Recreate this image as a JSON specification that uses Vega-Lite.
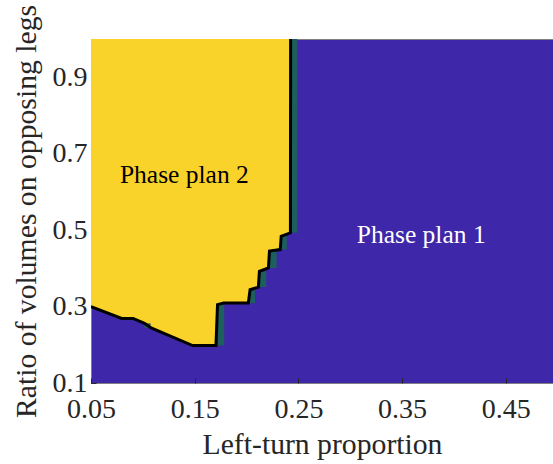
{
  "$schema": "https://vega.github.io/schema/vega-lite/v6.json",
  "autosize": "none",
  "padding": {"left": 91, "top": 39, "right": 0, "bottom": 81},
  "width": 462,
  "height": 344,
  "config": {
    "view": {"fill": "#3e27a8", "stroke": "#808080", "strokeWidth": 1},
    "font": "Liberation Serif, serif",
    "axis": {"labelFont": "Liberation Serif, serif", "titleFont": "Liberation Serif, serif", "labelColor": "#262626", "titleColor": "#262626", "titleFontWeight": "normal", "grid": false, "domain": false, "tickColor": "#262626", "tickSize": -5, "labelFlush": false, "labelOverlap": false}
  },
  "datasets": {
    "boundary": [
      {"i": 0, "x": 0.05, "y": 0.300},
      {"i": 1, "x": 0.0796, "y": 0.269},
      {"i": 2, "x": 0.0906, "y": 0.269},
      {"i": 3, "x": 0.1016, "y": 0.256},
      {"i": 4, "x": 0.108, "y": 0.244},
      {"i": 5, "x": 0.148, "y": 0.198},
      {"i": 6, "x": 0.1705, "y": 0.198},
      {"i": 7, "x": 0.1720, "y": 0.305},
      {"i": 8, "x": 0.178, "y": 0.309},
      {"i": 9, "x": 0.2017, "y": 0.309},
      {"i": 10, "x": 0.2034, "y": 0.344},
      {"i": 11, "x": 0.2114, "y": 0.351},
      {"i": 12, "x": 0.2124, "y": 0.392},
      {"i": 13, "x": 0.2211, "y": 0.401},
      {"i": 14, "x": 0.2221, "y": 0.445},
      {"i": 15, "x": 0.2325, "y": 0.449},
      {"i": 16, "x": 0.2334, "y": 0.484},
      {"i": 17, "x": 0.2423, "y": 0.493},
      {"i": 18, "x": 0.2425, "y": 1.0}
    ],
    "edges": [
      {"x": 0.1016, "x2": 0.1075, "y": 0.244, "y2": 0.256},
      {"x": 0.1725, "x2": 0.1785, "y": 0.198, "y2": 0.305},
      {"x": 0.2025, "x2": 0.2082, "y": 0.309, "y2": 0.344},
      {"x": 0.2119, "x2": 0.2190, "y": 0.351, "y2": 0.392},
      {"x": 0.2216, "x2": 0.2290, "y": 0.401, "y2": 0.445},
      {"x": 0.2330, "x2": 0.2388, "y": 0.449, "y2": 0.484},
      {"x": 0.2425, "x2": 0.2490, "y": 0.493, "y2": 1.0}
    ],
    "labels": [
      {"x": 0.140, "y": 0.643, "text": "Phase plan 2", "color": "black"},
      {"x": 0.3684, "y": 0.488, "text": "Phase plan 1", "color": "white"}
    ]
  },
  "layer": [
    {
      "data": {"name": "boundary"},
      "mark": {"type": "area", "color": "#f9d32a", "opacity": 1, "clip": true, "orient": "vertical"},
      "encoding": {
        "x": {"field": "x", "type": "quantitative", "scale": {"domain": [0.05, 0.4955], "nice": false, "zero": false},
          "axis": {"values": [0.05, 0.15, 0.25, 0.35, 0.45], "format": ".2f", "title": "Left-turn proportion", "labelFontSize": 28, "titleFontSize": 29.7, "labelPadding": 17, "titlePadding": 7}},
        "y": {"field": "y", "type": "quantitative", "scale": {"domain": [0.1, 1.0], "nice": false, "zero": false},
          "axis": {"values": [0.1, 0.3, 0.5, 0.7, 0.9], "format": ".1f", "title": "Ratio of volumes on opposing legs", "labelFontSize": 28, "titleFontSize": 29.7, "labelPadding": 9, "titleX": -50}},
        "y2": {"datum": 1}
      }
    },
    {
      "data": {"name": "edges"},
      "mark": {"type": "rect", "color": "#1d5f5c", "opacity": 1, "clip": true},
      "encoding": {
        "x": {"field": "x", "type": "quantitative"},
        "x2": {"field": "x2"},
        "y": {"field": "y", "type": "quantitative"},
        "y2": {"field": "y2"}
      }
    },
    {
      "data": {"name": "boundary"},
      "mark": {"type": "line", "color": "black", "strokeWidth": 3, "clip": true},
      "encoding": {
        "x": {"field": "x", "type": "quantitative"},
        "y": {"field": "y", "type": "quantitative"},
        "order": {"field": "i", "type": "quantitative"}
      }
    },
    {
      "data": {"name": "labels"},
      "mark": {"type": "text", "fontSize": 25.5, "font": "Liberation Serif, serif"},
      "encoding": {
        "x": {"field": "x", "type": "quantitative"},
        "y": {"field": "y", "type": "quantitative"},
        "text": {"field": "text"},
        "color": {"field": "color", "type": "nominal", "scale": null}
      }
    }
  ]
}
